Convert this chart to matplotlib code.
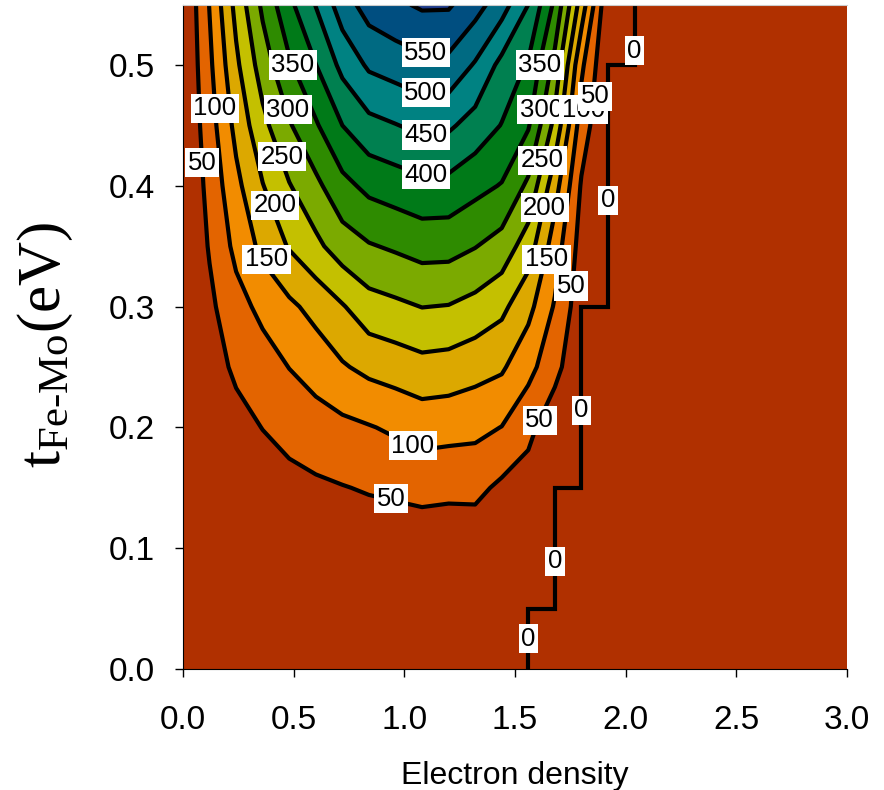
import numpy as np
import matplotlib
matplotlib.use("Agg")
import matplotlib.pyplot as plt

# ── Data ────────────────────────────────────────────────────
density = [0.00, 0.12, 0.24, 0.36, 0.48, 0.60, 0.72, 0.84, 0.96, 1.08, 1.20, 1.32, 1.44,
           1.56, 1.68, 1.80, 1.92, 2.04, 2.16, 2.28, 2.40, 2.52, 2.64, 2.76, 2.88, 3.00]
t_hop = [0.00, 0.05, 0.10, 0.15, 0.20, 0.25, 0.30, 0.35, 0.40, 0.45, 0.50, 0.55]

# Tc (K) per row of t_hop, for density 0.00 ... 2.04 (zero beyond)
tc_rows = [
    [0, 0, 0, 0, 0, 0, 0, 0, 0, 0, 0, 0, 0, 0, 0, 0, 0, 0],
    [0, 2, 4, 6, 7, 8, 8, 8, 7, 6, 6, 6, 4, 2, 0, 0, 0, 0],
    [0, 5, 9, 13, 16, 18, 19, 20, 18, 16, 16, 16, 12, 6, 0, 0, 0, 0],
    [0, 9, 18, 27, 35, 42, 48, 54, 59, 66, 62, 63, 40, 25, 3, 0, 0, 0],
    [0, 18, 35, 51, 66, 78, 88, 97, 108, 120, 117, 113, 99, 65, 14, 0, 0, 0],
    [0, 30, 58, 78, 101, 121, 145, 163, 173, 184, 180, 168, 157, 115, 68, 0, 0, 0],
    [0, 40, 82, 113, 140, 166, 196, 230, 240, 251, 248, 234, 212, 165, 95, 20, 0, 0],
    [0, 54, 113, 163, 204, 238, 276, 296, 307, 319, 318, 302, 280, 225, 125, 30, 0, 0],
    [0, 65, 137, 198, 247, 288, 335, 363, 375, 387, 385, 365, 347, 290, 170, 45, 0, 0],
    [0, 78, 164, 236, 295, 344, 400, 435, 448, 462, 458, 430, 398, 355, 235, 75, 0, 0],
    [0, 90, 190, 274, 343, 399, 464, 508, 522, 536, 536, 495, 435, 395, 285, 110, 0, 0],
    [0, 102, 215, 310, 388, 452, 526, 572, 591, 607, 606, 570, 522, 450, 340, 177, 10, 0],
]

# critical density where Tc drops to zero, per t band
zero_t_edges = [0.00, 0.05, 0.15, 0.30, 0.50, 0.55]
zero_density = [1.56, 1.68, 1.80, 1.92, 2.04]

levels = [0, 50, 100, 150, 200, 250, 300, 350, 400, 450, 500, 550, 600, 650]
band_colors = ["#B03000", "#E36400", "#F28C00", "#DCA800", "#C4C000", "#7BAA00",
               "#2E8B00", "#007A18", "#008050", "#008282", "#006A82", "#004E80",
               "#1E3A8A"]

# label positions (layout only)
label_levels = [550, 500, 450, 400, 350, 300, 250, 200, 150, 100, 50,
                350, 300, 100, 50, 250, 200, 150, 50, 50, 100, 50]
label_xy = [(1.097, 0.510), (1.097, 0.477), (1.097, 0.442), (1.097, 0.409),
            (0.497, 0.500), (0.474, 0.463), (0.447, 0.424), (0.417, 0.384),
            (0.377, 0.339), (0.143, 0.464), (0.086, 0.419),
            (1.612, 0.500), (1.619, 0.463), (1.810, 0.463), (1.863, 0.474),
            (1.624, 0.421), (1.634, 0.382), (1.642, 0.339), (1.755, 0.317),
            (1.612, 0.206), (1.039, 0.185), (0.941, 0.141)]
zero_label_t = [0.025, 0.089, 0.214, 0.388, 0.512]

# ── Figure ──────────────────────────────────────────────────
plt.rcParams["font.family"] = ["Liberation Sans", "DejaVu Sans"]
plt.rcParams["mathtext.fontset"] = "custom"
plt.rcParams["mathtext.rm"] = "Liberation Serif"
plt.rcParams["mathtext.it"] = "Liberation Serif:italic"

Z = np.zeros((len(t_hop), len(density)))
for i, row in enumerate(tc_rows):
    Z[i, :len(row)] = row
X, T = np.meshgrid(density, t_hop)

fig = plt.figure(figsize=(8.84, 7.90), dpi=100)
ax = fig.add_axes([183 / 884, 1 - 669 / 790, 664 / 884, 664.4 / 790])

ax.contourf(X, T, Z, levels=levels, colors=band_colors, antialiased=True)
ax.contour(X, T, Z, levels=levels[1:-1], colors="k", linewidths=3.0)
ax.stairs(zero_density, zero_t_edges, orientation="horizontal", baseline=None,
          color="k", lw=3.0)

box = dict(boxstyle="square,pad=0.1", fc="white", ec="none")
for lev, (x, y) in zip(label_levels, label_xy):
    ax.text(x, y, str(lev), fontsize=18.5, ha="center", va="center", bbox=box, zorder=5)
for x, y in zip(zero_density, zero_label_t):
    ax.text(x, y, "0", fontsize=18.5, ha="center", va="center", bbox=box, zorder=5)

ax.set_xlim(0, 3)
ax.set_ylim(0, 0.55)
ax.set_xticks([0, 0.5, 1.0, 1.5, 2.0, 2.5, 3.0])
ax.set_yticks([0, 0.1, 0.2, 0.3, 0.4, 0.5])
ax.xaxis.set_major_formatter(matplotlib.ticker.FormatStrFormatter("%.1f"))
ax.yaxis.set_major_formatter(matplotlib.ticker.FormatStrFormatter("%.1f"))
ax.tick_params(direction="out", length=6, width=1, labelsize=24)
ax.tick_params(axis="x", pad=20)
ax.tick_params(axis="y", pad=14)
ax.spines["right"].set_visible(False)
ax.spines["top"].set_color("#cccccc")

ax.set_xlabel("Electron density", fontsize=23, labelpad=18)
fig.text(45 / 884, 1 - 345 / 790, r"$\mathrm{t}_{\mathrm{Fe\text{-}Mo}}\mathrm{(eV)}$",
         rotation=90, ha="center", va="center", fontsize=44)

fig.savefig("out.png", dpi=100)
